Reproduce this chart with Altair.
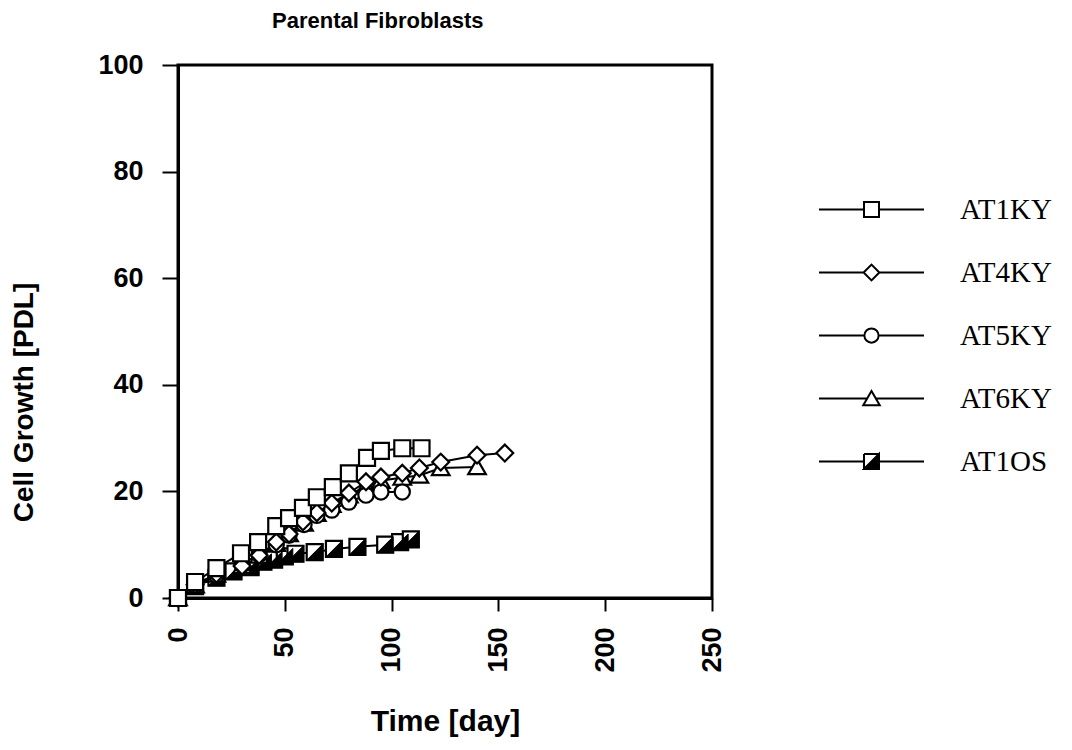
import altair as alt
import pandas as pd

# ---- data ----
series_names = ["AT1KY", "AT4KY", "AT5KY", "AT6KY", "AT1OS"]

days_at1ky = [0, 8, 18, 29.5, 37.5, 46, 52, 58.5, 65, 72.5, 80, 88.5, 95, 105, 114]
pdl_at1ky = [0, 3.0, 5.6, 8.4, 10.5, 13.5, 15.0, 16.9, 18.9, 20.8, 23.4, 26.3, 27.6, 28.1, 28.1]

days_at4ky = [0, 8, 18, 30, 38, 46, 52, 58.5, 65, 72, 80, 88, 95, 105, 113, 123, 140, 153]
pdl_at4ky = [0, 2.5, 4.5, 6.0, 8.0, 10.5, 12.0, 14.3, 16.0, 17.8, 19.7, 21.8, 22.7, 23.4, 24.4, 25.5, 26.8, 27.2]

days_at5ky = [0, 8, 18, 30, 38, 46, 52, 59, 65, 72, 80, 88, 95, 105]
pdl_at5ky = [0, 2.3, 4.3, 6.2, 8.2, 10.0, 11.8, 13.8, 15.5, 16.5, 18.0, 19.3, 19.9, 19.9]

days_at6ky = [0, 8, 18, 30, 38, 46, 52, 59, 65, 72, 80, 88, 95, 105, 113, 123, 140]
pdl_at6ky = [0, 2.4, 4.4, 6.0, 8.0, 10.2, 12.0, 14.0, 15.8, 17.5, 19.3, 21.0, 22.0, 22.6, 23.0, 24.4, 24.6]

days_at1os = [0, 8, 18, 26, 34, 40, 45, 50, 55, 64, 73, 84, 97, 104, 109]
pdl_at1os = [0, 2.2, 3.8, 5.0, 5.8, 6.8, 7.2, 7.8, 8.3, 8.6, 9.2, 9.6, 10.0, 10.5, 11.0]

x_ticks = [0, 50, 100, 150, 200, 250]
y_ticks = [0, 20, 40, 60, 80, 100]

# drawing order: half-filled squares at the back, open squares on top
draw_order = [
    ("AT1OS", days_at1os, pdl_at1os),
    ("AT6KY", days_at6ky, pdl_at6ky),
    ("AT5KY", days_at5ky, pdl_at5ky),
    ("AT4KY", days_at4ky, pdl_at4ky),
    ("AT1KY", days_at1ky, pdl_at1ky),
]
rows = []
for name, xs, ys in draw_order:
    for d, p in zip(xs, ys):
        rows.append({"series": name, "day": d, "pdl": p})
df = pd.DataFrame(rows)

# ---- marker shapes (unit square -1..1) ----
SQ = "M-1,-1H1V1H-1Z"
DIA = "M-1.05,0L0,-1.05L1.05,0L0,1.05Z"
CIR = "M-0.95,0A0.95,0.95,0,1,1,0.95,0A0.95,0.95,0,1,1,-0.95,0Z"
TRI = "M0,-1L1.1,0.9L-1.1,0.9Z"
HALF = "M1,-1L1,1L-1,1Z"
marker_of = {"AT1KY": SQ, "AT4KY": DIA, "AT5KY": CIR, "AT6KY": TRI, "AT1OS": SQ}

# legend symbols: line + marker (line stops at the marker outline)
L = 7.0
legend_paths = [
    f"M{-L},0H-1M1,0H{L}" + SQ,
    f"M{-L},0H-1.05M1.05,0H{L}" + DIA,
    f"M{-L},0H-0.95M0.95,0H{L}" + CIR,
    f"M{-L},0H-0.58M0.58,0H{L}" + TRI,
    f"M{-L},0H-1M1,0H{L}M-1,-1H1M1,-1V1M1,1H-1M-1,1V-1" + HALF,
]
legend_fills = ["white", "white", "white", "white", "black"]
legend_strokes = ["black"] * 5

SANS = "Liberation Sans, Arial, Helvetica, sans-serif"
SERIF = "Liberation Serif, Times New Roman, serif"

MARK_SIZE = 256

x_enc = alt.X("day:Q", scale=alt.Scale(domain=[0, 250], nice=False),
              axis=alt.Axis(values=x_ticks, labelAngle=270, tickSize=13,
                            labelPadding=16, title="Time [day]", titlePadding=34,
                            titleFontSize=30))
y_enc = alt.Y("pdl:Q", scale=alt.Scale(domain=[0, 100], nice=False),
              axis=alt.Axis(values=y_ticks, tickSize=16, labelPadding=19,
                            title="Cell Growth [PDL]", titleX=-140, titleY=337))

legend = alt.Legend(
    orient="none", legendX=679, legendY=130, title=None,
    labelFont=SERIF, labelFontSize=29, labelFontWeight="normal", labelColor="black",
    symbolSize=225, symbolStrokeWidth=2, symbolOpacity=1,
    labelOffset=74, rowPadding=33, padding=0,
)

base = alt.Chart(df)

layers = [base.mark_line(color="black", strokeWidth=2).encode(
    x=x_enc, y=y_enc, detail="series:N")]

for name, _, _ in draw_order:
    sub = base.transform_filter(alt.datum.series == name)
    layers.append(sub.mark_point(
        shape=marker_of[name], filled=True, fill="white", stroke="black",
        strokeWidth=2.2, size=MARK_SIZE, opacity=1).encode(x=x_enc, y=y_enc))
    if name == "AT1OS":
        layers.append(sub.mark_point(
            shape=HALF, filled=True, fill="black", stroke="black",
            strokeWidth=1, size=MARK_SIZE, opacity=1).encode(x=x_enc, y=y_enc))

# invisible layer that only carries the legend
layers.append(base.mark_point(filled=True, strokeWidth=2, size=225, opacity=0).encode(
    x=x_enc, y=y_enc,
    shape=alt.Shape("series:N", scale=alt.Scale(domain=series_names, range=legend_paths),
                    legend=legend),
    fill=alt.Fill("series:N", scale=alt.Scale(domain=series_names, range=legend_fills),
                  legend=legend),
    stroke=alt.Stroke("series:N", scale=alt.Scale(domain=series_names, range=legend_strokes),
                      legend=legend),
))

chart = alt.layer(*layers).properties(
    width=534, height=533,
    background="white",
    title=alt.TitleParams("Parental Fibroblasts", anchor="start", frame="group", dx=94,
                          offset=1, baseline="alphabetic",
                          font=SANS, fontSize=22, fontWeight="bold", color="black"),
    autosize=alt.AutoSizeParams(type="none"),
    padding={"left": 170, "top": 57, "right": 340, "bottom": 145},
).configure_view(
    stroke="black", strokeWidth=3
).configure_axis(
    grid=False, domainColor="black", domainWidth=3, tickColor="black", tickWidth=2,
    labelFont=SANS, labelFontSize=27, labelFontWeight="bold", labelColor="black",
    titleFont=SANS, titleFontSize=28, titleFontWeight="bold", titleColor="black",
)

chart.save("out.html", embed_options={"renderer": "svg", "actions": False})
